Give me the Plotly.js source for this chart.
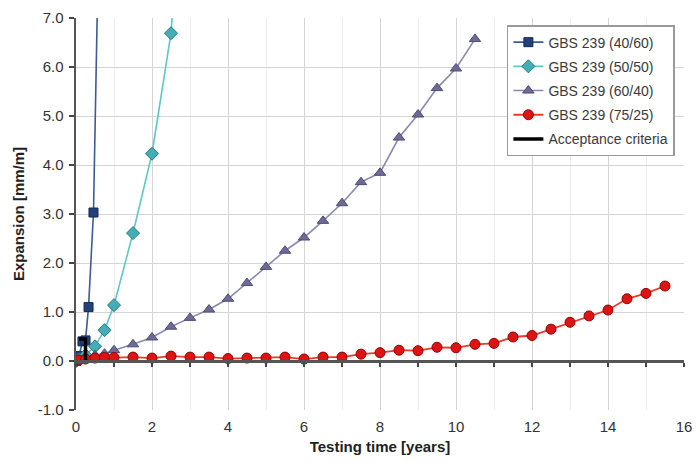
<!DOCTYPE html>
<html>
<head>
<meta charset="utf-8">
<script src="https://cdn.plot.ly/plotly-3.0.1.min.js"></script>
<style>html,body{margin:0;padding:0;background:#fff;}#chart{width:697px;height:463px;}</style>
</head>
<body>
<div id="chart"></div>
<script>
// Series names
const seriesNames = ["GBS 239 (40/60)", "GBS 239 (50/50)", "GBS 239 (60/40)", "GBS 239 (75/25)", "Acceptance criteria"];

// GBS 239 (40/60)
const t4060 = [0, 0.08, 0.17, 0.25, 0.33, 0.46, 0.75];
const e4060 = [0, 0.10, 0.40, 0.42, 1.10, 3.03, 15.0];

// GBS 239 (50/50)
const t5050 = [0, 0.08, 0.25, 0.5, 0.75, 1.0, 1.5, 2.0, 2.5, 3.0];
const e5050 = [0, 0.03, 0.12, 0.30, 0.63, 1.14, 2.61, 4.23, 6.69, 12.0];

// GBS 239 (60/40)
const t6040 = [0, 0.08, 0.25, 0.5, 0.75, 1.0, 1.5, 2.0, 2.5, 3.0, 3.5, 4.0, 4.5, 5.0, 5.5, 6.0, 6.5, 7.0, 7.5, 8.0, 8.5, 9.0, 9.5, 10.0, 10.5];
const e6040 = [0, 0.03, 0.08, 0.12, 0.15, 0.22, 0.34, 0.48, 0.70, 0.88, 1.05, 1.27, 1.59, 1.92, 2.25, 2.52, 2.86, 3.22, 3.65, 3.84, 4.56, 5.03, 5.57, 5.97, 6.57];

// GBS 239 (75/25)
const t7525 = [0, 0.08, 0.25, 0.5, 0.75, 1.0, 1.5, 2.0, 2.5, 3.0, 3.5, 4.0, 4.5, 5.0, 5.5, 6.0, 6.5, 7.0, 7.5, 8.0, 8.5, 9.0, 9.5, 10.0, 10.5, 11.0, 11.5, 12.0, 12.5, 13.0, 13.5, 14.0, 14.5, 15.0, 15.5];
const e7525 = [0, 0.02, 0.04, 0.06, 0.07, 0.07, 0.08, 0.06, 0.10, 0.08, 0.08, 0.05, 0.06, 0.06, 0.08, 0.04, 0.08, 0.08, 0.14, 0.17, 0.22, 0.21, 0.28, 0.27, 0.34, 0.36, 0.49, 0.52, 0.65, 0.79, 0.92, 1.04, 1.27, 1.38, 1.53];

// Acceptance criteria
const tAcc = [0.08, 0.25, 0.25];
const eAcc = [0.45, 0.45, 0];

// Axis ticks
const yTickVals = [-1, 0, 1, 2, 3, 4, 5, 6, 7];
const yTickText = yTickVals.map(v => v.toFixed(1));
const xTickVals = [0, 2, 4, 6, 8, 10, 12, 14, 16];

const traces = [
  {x: t4060, y: e4060, name: seriesNames[0], mode: "lines+markers", legendgroup: "a",
   line: {color: "#3d5a99", width: 1.6},
   marker: {symbol: "square", size: 9, color: "#22407a", line: {color: "#142a55", width: 1}}},
  {x: t5050, y: e5050, name: seriesNames[1], mode: "lines+markers", legendgroup: "b",
   line: {color: "#5cc8c8", width: 1.6},
   marker: {symbol: "diamond", size: 10, color: "#45adb5", line: {color: "#24787e", width: 1}}},
  {x: t6040, y: e6040, name: seriesNames[2], mode: "lines+markers", legendgroup: "c",
   line: {color: "#8a88b2", width: 1.6},
   marker: {symbol: "triangle-up", size: 10, color: "#6d6a96", line: {color: "#4f4c75", width: 1}}},
  {x: t7525, y: e7525, name: seriesNames[3], mode: "lines+markers", legendgroup: "d",
   line: {color: "#ea3a2a", width: 1.8},
   marker: {symbol: "circle", size: 10, color: "#dc1414", line: {color: "#9a0000", width: 1}}},
  {x: tAcc, y: eAcc, name: seriesNames[4], mode: "lines", legendgroup: "e",
   line: {color: "#000000", width: 3.5}}
];

const layout = {
  width: 697, height: 463,
  margin: {l: 76, r: 13, t: 18, b: 53},
  paper_bgcolor: "#ffffff", plot_bgcolor: "#ffffff",
  font: {family: "Liberation Sans, Arial, sans-serif", size: 15, color: "#333333"},
  showlegend: true,
  legend: {
    x: 0.985, y: 0.982, xanchor: "right", yanchor: "top",
    bgcolor: "#ffffff", bordercolor: "#9a9a9a", borderwidth: 1.5,
    font: {size: 14, color: "#3a3a3a"},
    traceorder: "grouped", tracegroupgap: 3, itemwidth: 30
  },
  xaxis: {
    range: [0, 16], tickvals: xTickVals, ticktext: xTickVals.map(String),
    showgrid: true, gridcolor: "#d4d4d4", gridwidth: 1,
    minor: {dtick: 1, showgrid: true, gridcolor: "#ededed", gridwidth: 1},
    showline: false, zeroline: false, ticks: "",
    ticklabelstandoff: 6,
    tickfont: {size: 15, color: "#333333"},
    title: {text: "<b>Testing time [years]</b>", font: {size: 15, color: "#222222"}, standoff: 7}
  },
  xaxis2: {
    range: [0, 16], overlaying: "x", matches: "x", anchor: "free", position: 0.125,
    side: "bottom", showgrid: false, zeroline: false, showticklabels: false,
    showline: true, linecolor: "#555555", linewidth: 2.5,
    ticks: "outside", dtick: 1, ticklen: 4, tickcolor: "#444444", tickwidth: 1.5
  },
  yaxis: {
    range: [-1, 7], tickvals: yTickVals, ticktext: yTickText,
    showgrid: true, gridcolor: "#d4d4d4", gridwidth: 1,
    zeroline: false,
    showline: true, linecolor: "#555555", linewidth: 2.5,
    ticks: "outside", ticklen: 5, tickcolor: "#444444", tickwidth: 1.5,
    ticklabelstandoff: 2,
    tickfont: {size: 15, color: "#333333"},
    title: {text: "<b>Expansion [mm/m]</b>", font: {size: 15, color: "#222222"}, standoff: 10}
  }
};

// empty reference so xaxis2 (axis line at y = 0) is drawn
traces.push({x: [], y: [], xaxis: "x2", yaxis: "y", showlegend: false, hoverinfo: "skip"});

Plotly.newPlot("chart", traces, layout, {displayModeBar: false, staticPlot: true});
</script>
</body>
</html>
